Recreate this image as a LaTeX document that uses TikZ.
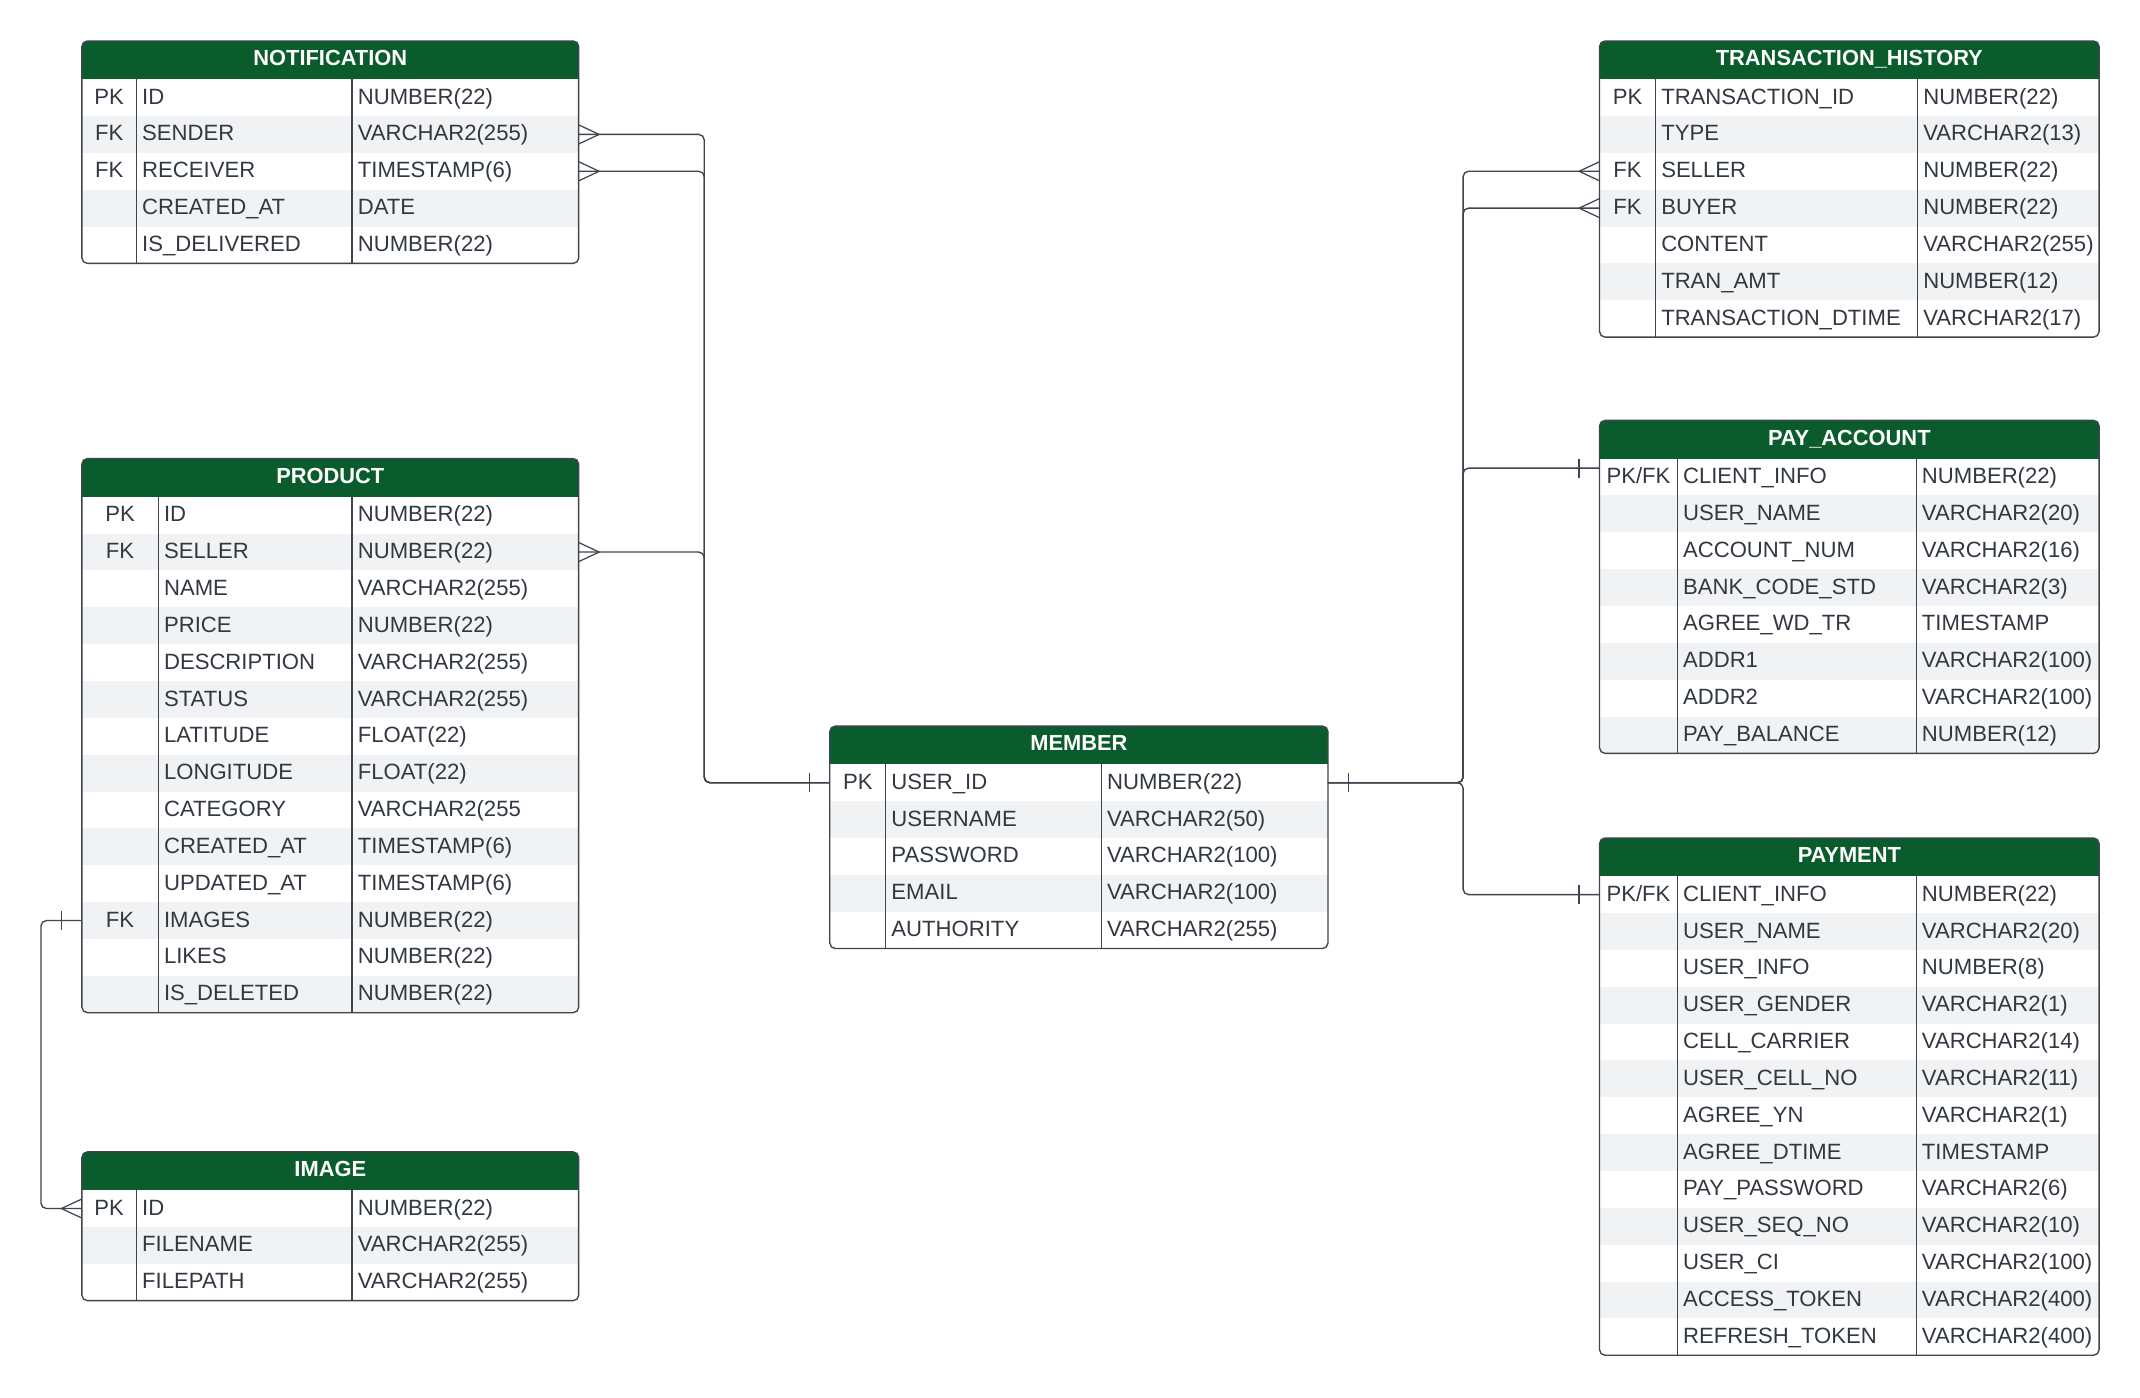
\documentclass[tikz,border=0pt]{standalone}
\usepackage{fontspec}
\setmainfont{Liberation Sans}
\definecolor{hdrgreen}{HTML}{0B5C2C}
\definecolor{rowgray}{HTML}{F1F2F4}
\definecolor{txtc}{HTML}{313842}
\definecolor{bordc}{HTML}{3E454E}
\tikzset{
  hdrfill/.style={fill=hdrgreen},
  grayfill/.style={fill=rowgray},
  bord/.style={draw=bordc, line width=1pt},
  conn/.style={draw=bordc, line width=1pt, rounded corners=4pt},
  relmark/.style={draw=bordc, line width=0.9pt},
  cellt/.style={anchor=west, inner sep=0pt, font=\fontsize{16.2}{19}\selectfont, text=txtc, text height=11.6pt, text depth=0pt},
  keyt/.style={anchor=center, inner sep=0pt, font=\fontsize{16.2}{19}\selectfont, text=txtc, text height=11.6pt, text depth=0pt},
  hdrt/.style={anchor=center, inner sep=0pt, font=\fontsize{16}{19}\selectfont\bfseries, text=white, text height=11.5pt, text depth=0pt}
}
% #1 name, #2 left, #3 top, #4 right, #5 div1, #6 div2, #7 title, #8 nrows, #9 rows
\newcommand\ertable[9]{%
  \begin{scope}
    \clip[rounded corners=4pt] (#2,#3) rectangle (#4,{#3+28+27*#8});
    \fill[hdrfill] (#2,#3) rectangle (#4,{#3+28});
    \foreach \k/\n/\ty [count=\i] in {#9} {
      \ifodd\i\else
        \fill[grayfill] (#2,{#3+28+27*(\i-1)}) rectangle (#4,{#3+28+27*\i});
      \fi
    }
  \end{scope}
  \draw[bord] (#5,{#3+28}) -- (#5,{#3+28+27*#8});
  \draw[bord] (#6,{#3+28}) -- (#6,{#3+28+27*#8});
  \draw[bord, rounded corners=4pt] (#2,#3) rectangle (#4,{#3+28+27*#8});
  \node[hdrt] (#1) at ({(#2+#4)/2},{#3+12.5}) {#7};
  \foreach \k/\n/\ty [count=\i] in {#9} {
    \node[keyt] (#1-k\i) at ({(#2+#5)/2},{#3+13.5+27*\i}) {\k};
    \node[cellt] (#1-n\i) at ({#5+4},{#3+13.5+27*\i}) {\n};
    \node[cellt] (#1-t\i) at ({#6+4},{#3+13.5+27*\i}) {\ty};
    \coordinate (#1-L\i) at (#2,{#3+14.5+27*\i});
    \coordinate (#1-R\i) at (#4,{#3+14.5+27*\i});
  }
}
% crow's foot (many) and bar (one) at a table edge point
\newcommand\crowR[1]{\draw[relmark] ([shift={(0,-7)}]#1) -- ([shift={(15,0)}]#1) -- ([shift={(0,7)}]#1);}
\newcommand\crowL[1]{\draw[relmark] ([shift={(0,-7)}]#1) -- ([shift={(-15,0)}]#1) -- ([shift={(0,7)}]#1);}
\newcommand\barR[1]{\draw[relmark] ([shift={(15,-7)}]#1) -- ([shift={(15,7)}]#1);}
\newcommand\barL[1]{\draw[relmark] ([shift={(-15,-7)}]#1) -- ([shift={(-15,7)}]#1);}
\begin{document}
\begin{tikzpicture}[x=1pt, y=-1pt]
\fill[white] (0,0) rectangle (1568,1024.3);
\useasboundingbox (0,0) rectangle (1568,1024.3);

\ertable{notif}{60}{30}{424}{100}{258}{NOTIFICATION}{5}{PK/ID/NUMBER(22), FK/SENDER/VARCHAR2(255), FK/RECEIVER/TIMESTAMP(6), {}/CREATED\_AT/DATE, {}/IS\_DELIVERED/NUMBER(22)}

\ertable{prod}{60}{336}{424}{116}{258}{PRODUCT}{14}{PK/ID/NUMBER(22), FK/SELLER/NUMBER(22), {}/NAME/VARCHAR2(255), {}/PRICE/NUMBER(22), {}/DESCRIPTION/VARCHAR2(255), {}/STATUS/VARCHAR2(255), {}/LATITUDE/FLOAT(22), {}/LONGITUDE/FLOAT(22), {}/CATEGORY/VARCHAR2(255, {}/CREATED\_AT/TIMESTAMP(6), {}/UPDATED\_AT/TIMESTAMP(6), FK/IMAGES/NUMBER(22), {}/LIKES/NUMBER(22), {}/IS\_DELETED/NUMBER(22)}

\ertable{img}{60}{844}{424}{100}{258}{IMAGE}{3}{PK/ID/NUMBER(22), {}/FILENAME/VARCHAR2(255), {}/FILEPATH/VARCHAR2(255)}

\ertable{mem}{608}{532}{973}{649}{807}{MEMBER}{5}{PK/USER\_ID/NUMBER(22), {}/USERNAME/VARCHAR2(50), {}/PASSWORD/VARCHAR2(100), {}/EMAIL/VARCHAR2(100), {}/AUTHORITY/VARCHAR2(255)}

\ertable{trans}{1172}{30}{1538}{1213}{1405}{TRANSACTION\_HISTORY}{7}{PK/TRANSACTION\_ID/NUMBER(22), {}/TYPE/VARCHAR2(13), FK/SELLER/NUMBER(22), FK/BUYER/NUMBER(22), {}/CONTENT/VARCHAR2(255), {}/TRAN\_AMT/NUMBER(12), {}/TRANSACTION\_DTIME/VARCHAR2(17)}

\ertable{pacc}{1172}{308}{1538}{1229}{1404}{PAY\_ACCOUNT}{8}{{PK/FK}/CLIENT\_INFO/NUMBER(22), {}/USER\_NAME/VARCHAR2(20), {}/ACCOUNT\_NUM/VARCHAR2(16), {}/BANK\_CODE\_STD/VARCHAR2(3), {}/AGREE\_WD\_TR/TIMESTAMP, {}/ADDR1/VARCHAR2(100), {}/ADDR2/VARCHAR2(100), {}/PAY\_BALANCE/NUMBER(12)}

\ertable{paym}{1172}{614}{1538}{1229}{1404}{PAYMENT}{13}{{PK/FK}/CLIENT\_INFO/NUMBER(22), {}/USER\_NAME/VARCHAR2(20), {}/USER\_INFO/NUMBER(8), {}/USER\_GENDER/VARCHAR2(1), {}/CELL\_CARRIER/VARCHAR2(14), {}/USER\_CELL\_NO/VARCHAR2(11), {}/AGREE\_YN/VARCHAR2(1), {}/AGREE\_DTIME/TIMESTAMP, {}/PAY\_PASSWORD/VARCHAR2(6), {}/USER\_SEQ\_NO/VARCHAR2(10), {}/USER\_CI/VARCHAR2(100), {}/ACCESS\_TOKEN/VARCHAR2(400), {}/REFRESH\_TOKEN/VARCHAR2(400)}

% junction coordinates
\coordinate (busL) at (516,573.5);
\coordinate (busR) at (1072,573.5);
\coordinate (busI) at (30,674.5);
\coordinate (pacc-Lx) at (1172,343);

% left bus to MEMBER
\draw[conn] (notif-R2) -| (busL) -- (mem-L1);
\draw[conn] (notif-R3) -| (busL) -- (mem-L1);
\draw[conn] (prod-R2) -| (busL) -- (mem-L1);
\crowR{notif-R2}
\crowR{notif-R3}
\crowR{prod-R2}
\barL{mem-L1}

% right bus from MEMBER
\draw[conn] (mem-R1) -- (busR) |- (trans-L3);
\draw[conn] (mem-R1) -- (busR) |- (trans-L4);
\draw[conn] (mem-R1) -- (busR) |- (pacc-Lx);
\draw[conn] (mem-R1) -- (busR) |- (paym-L1);
\barR{mem-R1}
\crowL{trans-L3}
\crowL{trans-L4}
\barL{pacc-Lx}
\barL{paym-L1}

% PRODUCT.IMAGES to IMAGE.ID
\draw[conn] (prod-L12) -- (busI) |- (img-L1);
\barL{prod-L12}
\crowL{img-L1}
\end{tikzpicture}
\end{document}
